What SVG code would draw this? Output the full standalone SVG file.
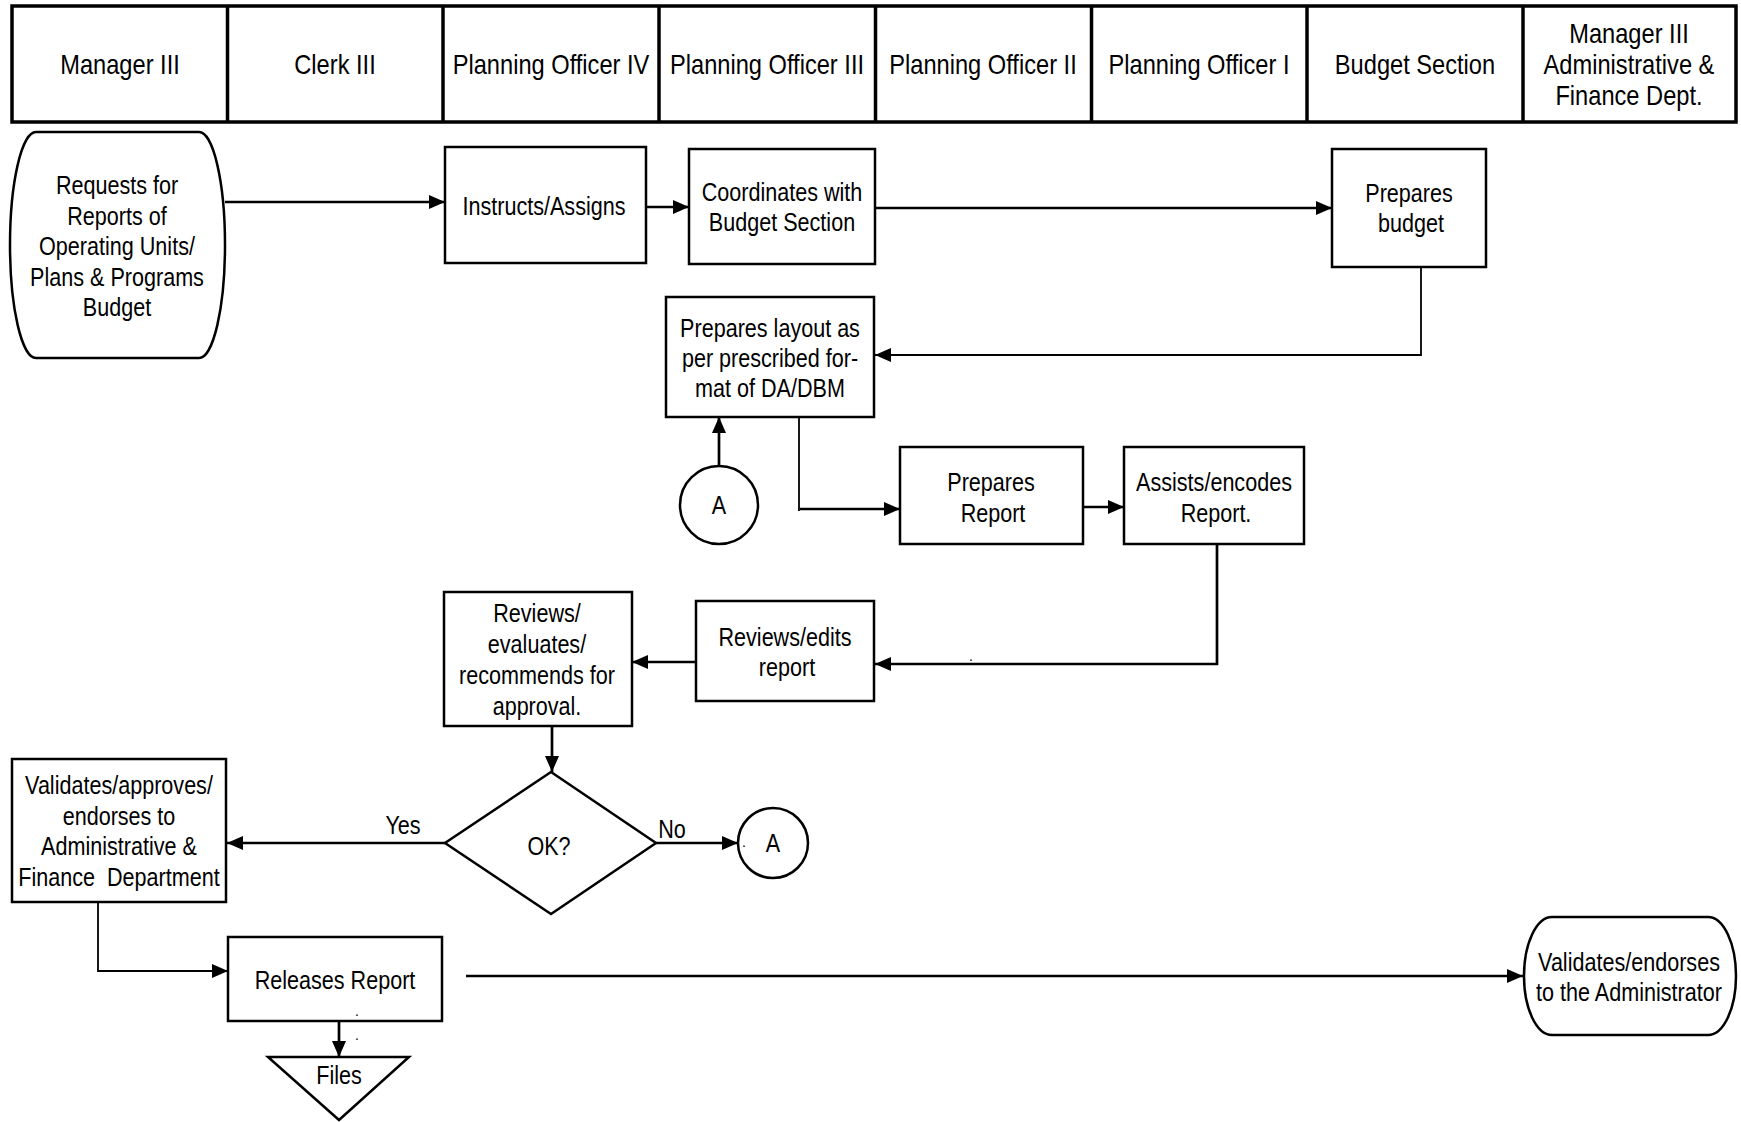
<svg xmlns="http://www.w3.org/2000/svg" width="1741" height="1122" viewBox="0 0 1741 1122">
<style>
text{font-family:"Liberation Sans",Arial,sans-serif;font-size:26px;fill:#000;text-anchor:middle;white-space:pre}
.h{font-size:28.5px}
.box{fill:#fff;stroke:#000;stroke-width:2.5}
.hdr{fill:#fff;stroke:#000;stroke-width:3.5}
.c{fill:none;stroke:#000;stroke-width:2.7}
.t{fill:none;stroke:#000;stroke-width:1.8}
.dot{font-size:14px}
</style>
<defs>
<marker id="ah" markerUnits="userSpaceOnUse" markerWidth="18" markerHeight="16" refX="16" refY="7" orient="auto">
<path d="M0,0 L16,7 L0,14 Z" fill="#000"/>
</marker>
</defs>
<rect width="1741" height="1122" fill="#fff"/>
<g id="header">
<rect class="hdr" x="12" y="6" width="1724" height="116"/>
<line class="hdr" x1="227.5" y1="6" x2="227.5" y2="122"/>
<line class="hdr" x1="443" y1="6" x2="443" y2="122"/>
<line class="hdr" x1="659" y1="6" x2="659" y2="122"/>
<line class="hdr" x1="875.5" y1="6" x2="875.5" y2="122"/>
<line class="hdr" x1="1091.5" y1="6" x2="1091.5" y2="122"/>
<line class="hdr" x1="1307" y1="6" x2="1307" y2="122"/>
<line class="hdr" x1="1523" y1="6" x2="1523" y2="122"/>
<text class="h" transform="translate(120 0) scale(.83 1)" x="0" y="74">Manager III</text>
<text class="h" transform="translate(335 0) scale(.83 1)" x="0" y="74">Clerk III</text>
<text class="h" transform="translate(551 0) scale(.83 1)" x="0" y="74">Planning Officer IV</text>
<text class="h" transform="translate(767 0) scale(.83 1)" x="0" y="74">Planning Officer III</text>
<text class="h" transform="translate(983 0) scale(.83 1)" x="0" y="74">Planning Officer II</text>
<text class="h" transform="translate(1199 0) scale(.83 1)" x="0" y="74">Planning Officer I</text>
<text class="h" transform="translate(1415 0) scale(.83 1)" x="0" y="74">Budget Section</text>
<text class="h" transform="translate(1629 0) scale(.83 1)" x="0" y="43">Manager III</text>
<text class="h" transform="translate(1629 0) scale(.83 1)" x="0" y="74">Administrative &amp;</text>
<text class="h" transform="translate(1629 0) scale(.83 1)" x="0" y="105">Finance Dept.</text>
</g>
<g id="connectors">
<line class="c" x1="225" y1="202" x2="445" y2="202" marker-end="url(#ah)"/>
<line class="c" x1="646" y1="207" x2="689" y2="207" marker-end="url(#ah)"/>
<line class="c" x1="875" y1="208" x2="1332" y2="208" marker-end="url(#ah)"/>
<polyline class="t" points="1421,268 1421,355 875,355" marker-end="url(#ah)"/>
<line class="c" x1="719" y1="466" x2="719" y2="417" marker-end="url(#ah)"/>
<polyline class="t" points="799,417 799,511"/>
<line class="c" x1="800" y1="509" x2="900" y2="509" marker-end="url(#ah)"/>
<line class="c" x1="1083" y1="507" x2="1124" y2="507" marker-end="url(#ah)"/>
<polyline class="c" points="1217,544 1217,664 875,664" marker-end="url(#ah)"/>
<line class="c" x1="696" y1="662" x2="632" y2="662" marker-end="url(#ah)"/>
<line class="c" x1="552" y1="726" x2="552" y2="772" marker-end="url(#ah)"/>
<line class="c" x1="445" y1="843" x2="227" y2="843" marker-end="url(#ah)"/>
<line class="c" x1="656" y1="843" x2="738" y2="843" marker-end="url(#ah)"/>
<polyline class="t" points="98,902 98,971 228,971" marker-end="url(#ah)"/>
<line class="c" x1="339" y1="1021" x2="339" y2="1057" marker-end="url(#ah)"/>
<line class="c" x1="466" y1="976" x2="1523" y2="976" marker-end="url(#ah)"/>
<text transform="translate(403 0) scale(.83 1)" x="0" y="834">Yes</text>
<text transform="translate(672 0) scale(.83 1)" x="0" y="838">No</text>
<text class="dot" x="971" y="661">.</text>
<text class="dot" x="357" y="1040">.</text>
</g>
<g id="n-request">
<path class="box" d="M36,132 H199 A26,113 0 0 1 199,358 H36 A26,113 0 0 1 36,132 Z"/>
<text transform="translate(117 0) scale(.83 1)" x="0" y="194">Requests for</text>
<text transform="translate(117 0) scale(.83 1)" x="0" y="225">Reports of</text>
<text transform="translate(117 0) scale(.83 1)" x="0" y="255">Operating Units/</text>
<text transform="translate(117 0) scale(.83 1)" x="0" y="286">Plans &amp; Programs</text>
<text transform="translate(117 0) scale(.83 1)" x="0" y="316">Budget</text>
</g>
<g id="n-instructs">
<rect class="box" x="445" y="147" width="201" height="116"/>
<text transform="translate(544 0) scale(.83 1)" x="0" y="215">Instructs/Assigns</text>
</g>
<g id="n-coordinates">
<rect class="box" x="689" y="149" width="186" height="115"/>
<text transform="translate(782 0) scale(.83 1)" x="0" y="201">Coordinates with</text>
<text transform="translate(782 0) scale(.83 1)" x="0" y="231">Budget Section</text>
</g>
<g id="n-budget">
<rect class="box" x="1332" y="149" width="154" height="118"/>
<text transform="translate(1409 0) scale(.83 1)" x="0" y="202">Prepares</text>
<text transform="translate(1411 0) scale(.83 1)" x="0" y="232">budget</text>
</g>
<g id="n-layout">
<rect class="box" x="666" y="297" width="208" height="120"/>
<text transform="translate(770 0) scale(.83 1)" x="0" y="337">Prepares layout as</text>
<text transform="translate(770 0) scale(.83 1)" x="0" y="367">per prescribed for-</text>
<text transform="translate(770 0) scale(.83 1)" x="0" y="397">mat of DA/DBM</text>
</g>
<g id="n-a1">
<circle class="box" cx="719" cy="505" r="39"/>
<text transform="translate(719 0) scale(.83 1)" x="0" y="514">A</text>
</g>
<g id="n-prepreport">
<rect class="box" x="900" y="447" width="183" height="97"/>
<text transform="translate(991 0) scale(.83 1)" x="0" y="491">Prepares</text>
<text transform="translate(993 0) scale(.83 1)" x="0" y="522">Report</text>
</g>
<g id="n-assists">
<rect class="box" x="1124" y="447" width="180" height="97"/>
<text transform="translate(1214 0) scale(.83 1)" x="0" y="491">Assists/encodes</text>
<text transform="translate(1216 0) scale(.83 1)" x="0" y="522">Report.</text>
</g>
<g id="n-reviewsedits">
<rect class="box" x="696" y="601" width="178" height="100"/>
<text transform="translate(785 0) scale(.83 1)" x="0" y="646">Reviews/edits</text>
<text transform="translate(787 0) scale(.83 1)" x="0" y="676">report</text>
</g>
<g id="n-reviewseval">
<rect class="box" x="444" y="592" width="188" height="134"/>
<text transform="translate(537 0) scale(.83 1)" x="0" y="622">Reviews/</text>
<text transform="translate(537 0) scale(.83 1)" x="0" y="653">evaluates/</text>
<text transform="translate(537 0) scale(.83 1)" x="0" y="684">recommends for</text>
<text transform="translate(537 0) scale(.83 1)" x="0" y="715">approval.</text>
</g>
<g id="n-ok">
<polygon class="box" points="551,772 656,843 551,914 445,843"/>
<text transform="translate(549 0) scale(.83 1)" x="0" y="855">OK?</text>
</g>
<g id="n-a2">
<circle class="box" cx="773" cy="843" r="35"/>
<text transform="translate(773 0) scale(.83 1)" x="0" y="852">A</text>
<text class="dot" x="744" y="847">.</text>
</g>
<g id="n-validates">
<rect class="box" x="12" y="759" width="214" height="143"/>
<text transform="translate(119 0) scale(.83 1)" x="0" y="794">Validates/approves/</text>
<text transform="translate(119 0) scale(.83 1)" x="0" y="825">endorses to</text>
<text transform="translate(119 0) scale(.83 1)" x="0" y="855">Administrative &amp;</text>
<text transform="translate(119 0) scale(.83 1)" x="0" y="886">Finance  Department</text>
</g>
<g id="n-releases">
<rect class="box" x="228" y="937" width="214" height="84"/>
<text transform="translate(335 0) scale(.83 1)" x="0" y="989">Releases Report</text>
<text class="dot" x="357" y="1016">.</text>
</g>
<g id="n-files">
<polygon class="box" points="268,1057 409,1057 339,1120"/>
<text transform="translate(339 0) scale(.83 1)" x="0" y="1084">Files</text>
</g>
<g id="n-endorses">
<path class="box" d="M1552,917 H1708 A28,59 0 0 1 1708,1035 H1552 A28,59 0 0 1 1552,917 Z"/>
<text transform="translate(1629 0) scale(.83 1)" x="0" y="971">Validates/endorses</text>
<text transform="translate(1629 0) scale(.83 1)" x="0" y="1001">to the Administrator</text>
</g>
</svg>
